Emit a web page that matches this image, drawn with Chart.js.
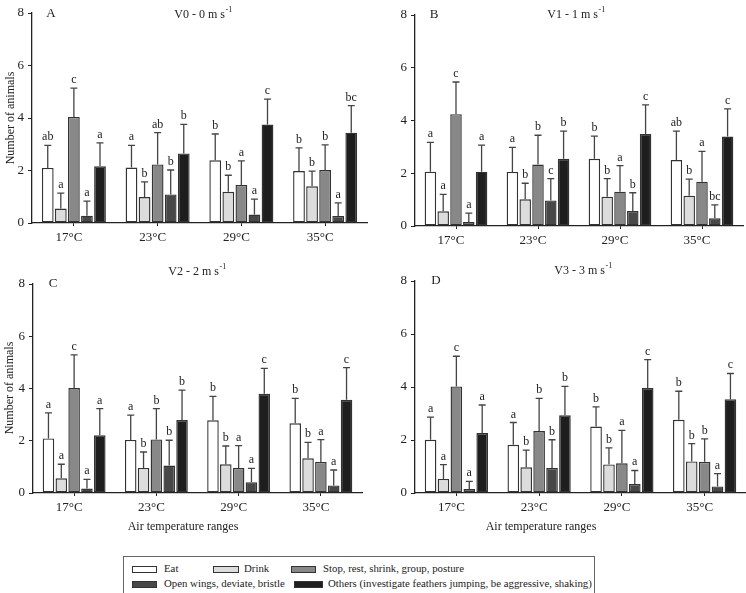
<!DOCTYPE html>
<html>
<head>
<meta charset="utf-8">
<script src="https://cdn.jsdelivr.net/npm/chart.js@4.4.1/dist/chart.umd.min.js"></script>
<style>
body { margin: 0; background: #fff; font-family: "Liberation Serif", "Times New Roman", serif; color: #222; }
.panel { position: absolute; }
.xtitle { position: absolute; font-size: 12px; transform: translateX(-50%); white-space: nowrap; }
#legend { position: absolute; left: 123px; top: 556px; width: 472px; height: 45px; border: 1px solid #666; box-sizing: border-box; }
.sw { position: absolute; height: 5px; border: 1px solid #333; }
.lt { position: absolute; font-size: 10.8px; line-height: 14px; white-space: nowrap; }
</style>
</head>
<body>
<div class="panel" style="left:0;top:0;width:373px;height:250px"><canvas id="cA"></canvas></div>
<div class="panel" style="left:373px;top:0;width:373px;height:250px"><canvas id="cB"></canvas></div>
<div class="panel" style="left:0;top:255px;width:373px;height:270px"><canvas id="cC"></canvas></div>
<div class="panel" style="left:373px;top:255px;width:373px;height:270px"><canvas id="cD"></canvas></div>
<div class="xtitle" style="left:183px;top:519px">Air temperature ranges</div>
<div class="xtitle" style="left:541px;top:519px">Air temperature ranges</div>
<div id="legend"></div>
<script>
const temps = ['17°C', '23°C', '29°C', '35°C'];
const behaviours = ['Eat', 'Drink', 'Stop, rest, shrink, group, posture', 'Open wings, deviate, bristle',
    'Others (investigate feathers jumping, be aggressive, shaking)'];
const yTicks = [0, 2, 4, 6, 8];

// V0 - 0 m/s  (rows = behaviours, cols = temps)
const meanV0 = [
    [2.10, 2.11, 2.39, 1.98],
    [0.55, 0.99, 1.19, 1.40],
    [4.04, 2.23, 1.45, 2.02],
    [0.28, 1.09, 0.32, 0.27],
    [2.16, 2.65, 3.75, 3.44],
];
const sdV0 = [
    [0.86, 0.85, 1.00, 0.88],
    [0.59, 0.58, 0.63, 0.58],
    [1.10, 1.21, 0.92, 0.96],
    [0.55, 0.93, 0.59, 0.50],
    [0.89, 1.11, 0.97, 1.03],
];
const letV0 = [
    ['ab', 'a', 'b', 'b'],
    ['a', 'b', 'b', 'b'],
    ['c', 'ab', 'a', 'b'],
    ['a', 'b', 'a', 'a'],
    ['a', 'b', 'c', 'bc'],
];

// V1 - 1 m/s
const meanV1 = [
    [2.06, 2.05, 2.55, 2.50],
    [0.56, 1.01, 1.11, 1.15],
    [4.24, 2.33, 1.30, 1.68],
    [0.15, 0.97, 0.57, 0.29],
    [2.06, 2.55, 3.49, 3.39],
];
const sdV1 = [
    [1.11, 0.93, 0.86, 1.10],
    [0.64, 0.61, 0.69, 0.63],
    [1.22, 1.11, 0.99, 1.15],
    [0.34, 0.83, 0.69, 0.51],
    [1.01, 1.05, 1.10, 1.05],
];
const letV1 = [
    ['a', 'a', 'b', 'ab'],
    ['a', 'b', 'b', 'b'],
    ['c', 'b', 'a', 'a'],
    ['a', 'c', 'b', 'bc'],
    ['a', 'b', 'c', 'c'],
];

// V2 - 2 m/s
const meanV2 = [
    [2.09, 2.03, 2.78, 2.67],
    [0.56, 0.96, 1.10, 1.33],
    [4.02, 2.05, 0.96, 1.19],
    [0.17, 1.05, 0.41, 0.29],
    [2.21, 2.79, 3.80, 3.57],
];
const sdV2 = [
    [0.98, 0.95, 0.92, 0.95],
    [0.54, 0.61, 0.70, 0.61],
    [1.27, 1.18, 0.85, 0.85],
    [0.35, 0.97, 0.53, 0.59],
    [1.02, 1.15, 0.97, 1.23],
];
const letV2 = [
    ['a', 'a', 'b', 'b'],
    ['a', 'b', 'b', 'b'],
    ['c', 'b', 'a', 'a'],
    ['a', 'b', 'a', 'a'],
    ['a', 'b', 'c', 'c'],
];

// V3 - 3 m/s
const meanV3 = [
    [2.01, 1.82, 2.51, 2.76],
    [0.53, 0.97, 1.08, 1.19],
    [4.02, 2.34, 1.12, 1.18],
    [0.15, 0.94, 0.34, 0.25],
    [2.26, 2.93, 3.96, 3.54],
];
const sdV3 = [
    [0.85, 0.84, 0.74, 1.08],
    [0.54, 0.65, 0.62, 0.67],
    [1.14, 1.23, 1.24, 0.86],
    [0.29, 1.07, 0.51, 0.48],
    [1.06, 1.09, 1.07, 0.97],
];
const letV3 = [
    ['a', 'a', 'b', 'b'],
    ['a', 'b', 'b', 'b'],
    ['c', 'b', 'a', 'b'],
    ['a', 'b', 'a', 'a'],
    ['a', 'b', 'c', 'c'],
];

const fills = ['#ffffff', '#dcdcdc', '#888888', '#484848', '#1e1e1e'];
const serif = '"Liberation Serif", "Times New Roman", serif';

// error bars, significance letters, panel letter and title
const marks = {
    id: 'marks',
    afterDatasetsDraw(chart, args, o) {
        const ctx = chart.ctx;
        const y = chart.scales.y;
        ctx.save();
        ctx.font = '12px ' + serif;
        ctx.fillStyle = '#222';
        ctx.textAlign = 'center';
        ctx.textBaseline = 'alphabetic';
        chart.data.datasets.forEach((ds, i) => {
            chart.getDatasetMeta(i).data.forEach((bar, j) => {
                const top = y.getPixelForValue(ds.data[j] + ds.sd[j]);
                ctx.strokeStyle = '#444';
                ctx.lineWidth = 1.3;
                ctx.beginPath();
                ctx.moveTo(bar.x, bar.y);
                ctx.lineTo(bar.x, top);
                ctx.moveTo(bar.x - 3.5, top);
                ctx.lineTo(bar.x + 3.5, top);
                ctx.stroke();
                ctx.fillText(ds.letters[j], bar.x, top - 5);
            });
        });

        ctx.textBaseline = 'middle';
        ctx.font = '13px ' + serif;
        ctx.fillText(o.letter, o.letterX, o.letterY);

        ctx.font = '12px ' + serif;
        const main = o.title;
        const w1 = ctx.measureText(main).width;
        ctx.font = '8px ' + serif;
        const w2 = ctx.measureText('-1').width;
        const x0 = o.titleX - (w1 + w2) / 2;
        ctx.textAlign = 'left';
        ctx.font = '12px ' + serif;
        ctx.fillText(main, x0, o.titleY);
        ctx.font = '8px ' + serif;
        ctx.fillText('-1', x0 + w1 + 0.5, o.titleY - 5);

        if (o.yTitle) {
            ctx.translate(o.yTitleX, o.yTitleY);
            ctx.rotate(-Math.PI / 2);
            ctx.textAlign = 'center';
            ctx.font = '12px ' + serif;
            ctx.fillText('Number of animals', 0, 0);
        }
        ctx.restore();
    }
};

function makePanel(id, means, sds, lets, box, info) {
    const datasets = behaviours.map((name, i) => ({
        label: name,
        data: means[i],
        sd: sds[i],
        letters: lets[i],
        backgroundColor: fills[i],
        borderColor: '#333',
        borderWidth: 1.4,
        borderSkipped: false,
        categoryPercentage: 0.78,
        barPercentage: 0.9,
    }));

    new Chart(document.getElementById(id), {
        type: 'bar',
        data: { labels: temps, datasets: datasets },
        options: {
            responsive: true,
            maintainAspectRatio: false,
            animation: false,
            layout: { padding: { left: 0, top: box.top, right: box.right, bottom: 0 } },
            plugins: { legend: { display: false }, tooltip: { enabled: false }, marks: info },
            scales: {
                x: {
                    afterFit: s => { s.height = box.xh; },
                    grid: { offset: false, drawOnChartArea: false, tickLength: 3, color: '#222' },
                    border: { color: '#222', width: 1.3 },
                    ticks: { color: '#222', padding: 4, labelOffset: -5, font: { family: serif, size: 13 } },
                },
                y: {
                    min: 0,
                    max: 8,
                    afterFit: s => { s.width = box.yw; },
                    afterBuildTicks: s => { s.ticks = yTicks.map(v => ({ value: v })); },
                    grid: { drawOnChartArea: false, tickLength: 4, color: '#222' },
                    border: { color: '#222', width: 1.3 },
                    ticks: { color: '#222', padding: 4, font: { family: serif, size: 13 } },
                },
            },
        },
        plugins: [marks],
    });
}

makePanel('cA', meanV0, sdV0, letV0, { top: 13, right: 6, xh: 27, yw: 32 },
    { letter: 'A', letterX: 51, letterY: 14, title: 'V0 - 0 m s', titleX: 203, titleY: 15, yTitle: true, yTitleX: 11, yTitleY: 118 });
makePanel('cB', meanV1, sdV1, letV1, { top: 15, right: 3, xh: 24, yw: 42 },
    { letter: 'B', letterX: 61, letterY: 15, title: 'V1 - 1 m s', titleX: 203, titleY: 15, yTitle: false });
makePanel('cC', meanV2, sdV2, letV2, { top: 29, right: 11, xh: 32, yw: 33 },
    { letter: 'C', letterX: 53, letterY: 29, title: 'V2 - 2 m s', titleX: 197, titleY: 17, yTitle: true, yTitleX: 10, yTitleY: 133 });
makePanel('cD', meanV3, sdV3, letV3, { top: 26, right: 0, xh: 32, yw: 42 },
    { letter: 'D', letterX: 63, letterY: 26, title: 'V3 - 3 m s', titleX: 210, titleY: 16, yTitle: false });

// legend, laid out like the figure (3 items, then 2)
const legendSpots = [
    { sx: 8, sw: 25, tx: 40, y: 12 },
    { sx: 89, sw: 26, tx: 120, y: 12 },
    { sx: 167, sw: 25, tx: 199, y: 12 },
    { sx: 8, sw: 25, tx: 40, y: 27 },
    { sx: 170, sw: 29, tx: 204, y: 27 },
];
const legend = document.getElementById('legend');
behaviours.forEach((name, i) => {
    const p = legendSpots[i];
    const sw = document.createElement('div');
    sw.className = 'sw';
    sw.style.cssText = `left:${p.sx}px;top:${p.y - 3}px;width:${p.sw - 2}px;background:${fills[i]}`;
    legend.appendChild(sw);
    const t = document.createElement('div');
    t.className = 'lt';
    t.style.cssText = `left:${p.tx}px;top:${p.y - 8}px`;
    t.textContent = name;
    legend.appendChild(t);
});
</script>
</body>
</html>
